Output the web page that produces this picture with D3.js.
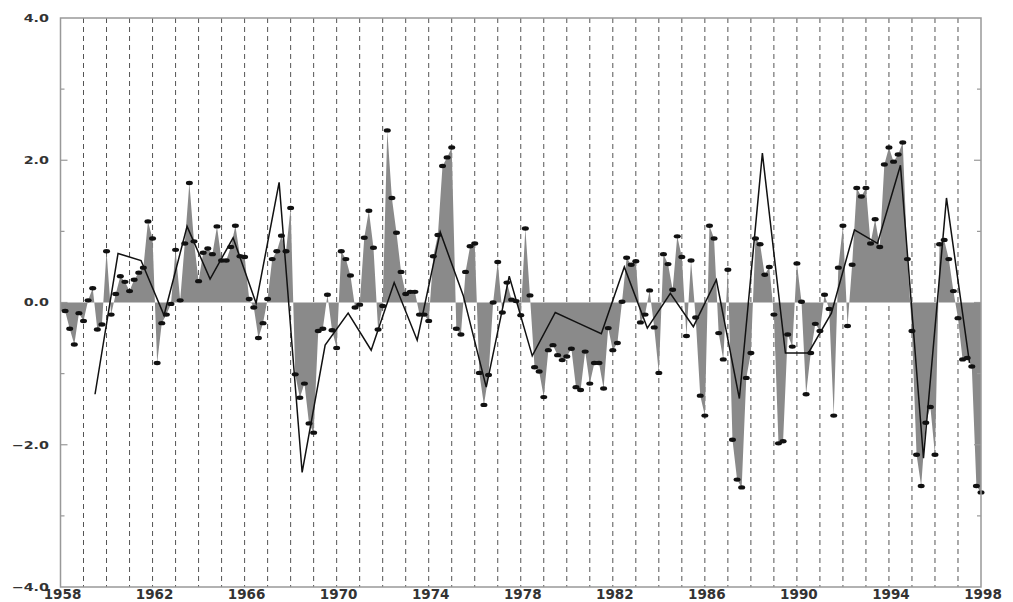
<!DOCTYPE html>
<html>
<head>
<meta charset="utf-8">
<script src="https://cdn.jsdelivr.net/npm/d3@7"></script>
<style>
  body { margin: 0; background: #fff; }
  text { font-family: "DejaVu Sans", sans-serif; font-weight: bold; fill: #333; }
</style>
</head>
<body>
<svg id="chart" width="1013" height="602"></svg>
<script>
// sampled index, five samples per year, 1958.2 .. 1998.0
var sampleStart = 1958.2;
var sampleStep = 0.2;
var sampleValues = [
  -0.12, -0.37, -0.59, -0.15, -0.26,
   0.03,  0.20, -0.38, -0.31,  0.72,
  -0.17,  0.12,  0.37,  0.29,  0.16,
   0.32,  0.42,  0.49,  1.14,  0.90,
  -0.85, -0.29, -0.17, -0.02,  0.74,
   0.03,  0.83,  1.68,  0.86,  0.30,
   0.70,  0.76,  0.68,  1.07,  0.59,
   0.59,  0.78,  1.08,  0.65,  0.64,
   0.05, -0.07, -0.50, -0.29,  0.05,
   0.61,  0.72,  0.94,  0.72,  1.33,
  -1.01, -1.34, -1.14, -1.70, -1.83,
  -0.40, -0.37,  0.11, -0.39, -0.64,
   0.72,  0.61,  0.38, -0.07, -0.03,
   0.91,  1.29,  0.77, -0.38, -0.05,
   2.42,  1.47,  0.98,  0.43,  0.12,
   0.15,  0.15, -0.17, -0.17, -0.26,
   0.65,  0.95,  1.92,  2.04,  2.18,
  -0.37, -0.45,  0.43,  0.79,  0.83,
  -0.99, -1.44, -1.02,  0.00,  0.57,
  -0.14,  0.28,  0.04,  0.02, -0.18,
   1.04,  0.10, -0.91, -0.97, -1.33,
  -0.67, -0.60, -0.74, -0.81, -0.76,
  -0.65, -1.19, -1.23, -0.69, -1.14,
  -0.85, -0.85, -1.21, -0.36, -0.67,
  -0.57,  0.01,  0.63,  0.53,  0.58,
  -0.28, -0.17,  0.17, -0.35, -0.99,
   0.68,  0.54,  0.18,  0.93,  0.64,
  -0.47,  0.59, -0.21, -1.31, -1.59,
   1.08,  0.90, -0.43, -0.80,  0.46,
  -1.93, -2.49, -2.60, -1.06, -0.71,
   0.90,  0.82,  0.39,  0.50, -0.17,
  -1.98, -1.95, -0.45, -0.62,  0.55,
   0.01, -1.29, -0.71, -0.30, -0.40,
   0.11, -0.09, -1.59,  0.49,  1.08,
  -0.33,  0.53,  1.61,  1.49,  1.61,
   0.83,  1.17,  0.78,  1.94,  2.18,
   1.98,  2.08,  2.25,  0.61, -0.40,
  -2.14, -2.58, -1.69, -1.47, -2.14,
   0.82,  0.88,  0.61,  0.16, -0.22,
  -0.80, -0.78, -0.90, -2.58, -2.67
];

// yearly series, plotted at mid-year 1959.5 .. 1997.5
var annualStart = 1959.5;
var annualValues = [
  -1.29, 0.69, 0.59, -0.18, 1.07, 0.33, 0.91, -0.01, 1.69, -2.39,
  -0.60, -0.15, -0.67, 0.28, -0.53, 0.99, 0.10, -1.19, 0.37, -0.75,
  -0.14, -0.29, -0.44, 0.50, -0.36, 0.13, -0.34, 0.32, -1.35, 2.10,
  -0.71, -0.71, -0.15, 1.02, 0.83, 1.93, -2.19, 1.47, -0.85
];

var xTickYears = [1958, 1962, 1966, 1970, 1974, 1978, 1982, 1986, 1990, 1994, 1998];
var yTickValues = [-4, -2, 0, 2, 4];

var svg = d3.select("#chart");
var plotLeft = 60.5, plotRight = 981, plotTop = 18, plotBottom = 587;

var x = d3.scaleLinear().domain([1958, 1998]).range([plotLeft, plotRight]);
var y = d3.scaleLinear().domain([-4, 4]).range([plotBottom, plotTop]);

var samples = sampleValues.map(function(v, i) {
  return { t: sampleStart + i * sampleStep, v: v };
});
var annual = annualValues.map(function(v, i) {
  return { t: annualStart + i, v: v };
});

// dashed year lines
svg.append("g")
  .selectAll("line")
  .data(d3.range(1959, 1998))
  .enter().append("line")
  .attr("x1", function(d) { return x(d); })
  .attr("x2", function(d) { return x(d); })
  .attr("y1", plotTop)
  .attr("y2", plotBottom)
  .attr("stroke", "#555")
  .attr("stroke-width", 1)
  .attr("stroke-dasharray", "5,4");

// shaded anomaly
var areaData = [{ t: 1958, v: samples[0].v }].concat(samples);
var area = d3.area()
  .x(function(d) { return x(d.t); })
  .y0(y(0))
  .y1(function(d) { return y(d.v); });

svg.append("path")
  .datum(areaData)
  .attr("d", area)
  .attr("fill", "#8a8a8a");

// annual line
var line = d3.line()
  .x(function(d) { return x(d.t); })
  .y(function(d) { return y(d.v); });

svg.append("path")
  .datum(annual)
  .attr("d", line)
  .attr("fill", "none")
  .attr("stroke", "#111")
  .attr("stroke-width", 1.5);

// sample dots
svg.append("g")
  .selectAll("ellipse")
  .data(samples)
  .enter().append("ellipse")
  .attr("cx", function(d) { return x(d.t); })
  .attr("cy", function(d) { return y(d.v); })
  .attr("rx", 3.5)
  .attr("ry", 2.2)
  .attr("fill", "#111");

// frame
svg.append("rect")
  .attr("x", plotLeft)
  .attr("y", plotTop)
  .attr("width", plotRight - plotLeft)
  .attr("height", plotBottom - plotTop)
  .attr("fill", "none")
  .attr("stroke", "#999")
  .attr("stroke-width", 1.5);

// inner ticks on both sides
var yAll = d3.range(-3, 4);
var tickG = svg.append("g").attr("stroke", "#999").attr("stroke-width", 1.2);
yAll.forEach(function(v) {
  var len = (v % 2 === 0) ? 7 : 4;
  tickG.append("line").attr("x1", plotLeft).attr("x2", plotLeft + len).attr("y1", y(v)).attr("y2", y(v));
  tickG.append("line").attr("x1", plotRight).attr("x2", plotRight - len).attr("y1", y(v)).attr("y2", y(v));
});

// y labels
svg.append("g")
  .selectAll("text")
  .data(yTickValues)
  .enter().append("text")
  .attr("transform", function(d) { return "translate(49," + y(d) + ") scale(1.3,1)"; })
  .attr("text-anchor", "end")
  .attr("dy", "0.36em")
  .style("font-size", "11px")
  .text(function(d) { return d3.format(".1f")(d).replace("-", "\u2212"); });

// x labels
svg.append("g")
  .selectAll("text")
  .data(xTickYears)
  .enter().append("text")
  .attr("x", function(d) { return x(d) + 2; })
  .attr("y", 599)
  .attr("text-anchor", "middle")
  .style("font-size", "13.5px")
  .text(function(d) { return d; });
</script>
</body>
</html>
